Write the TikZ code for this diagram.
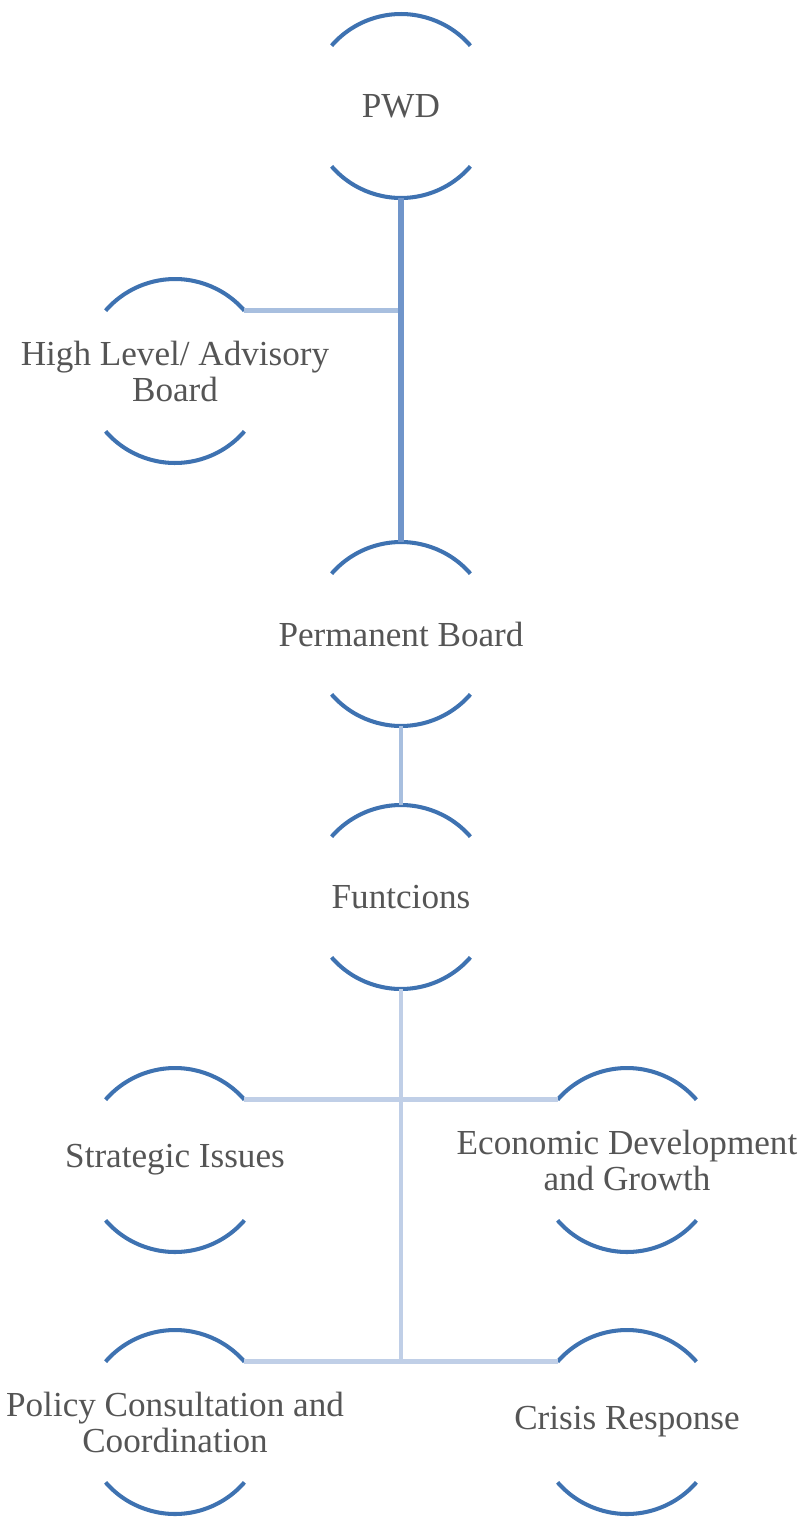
\documentclass[tikz,border=0pt]{standalone}
\usepackage{fontspec}
\setmainfont{Liberation Serif}
\definecolor{ringblue}{RGB}{62,114,177}
\definecolor{trunkblue}{RGB}{112,149,202}
\definecolor{branchblue}{RGB}{168,191,223}
\definecolor{paleblue}{RGB}{192,207,231}
\definecolor{labelgray}{RGB}{85,85,85}
\newcommand{\rad}{1.84cm}
% two arcs round a label, and the points where connectors meet them
\newcommand{\ring}[1]{%
  \draw[ringline] ([shift={(41:\rad)}]#1.center) arc[start angle=41,end angle=139,radius=\rad];
  \draw[ringline] ([shift={(221:\rad)}]#1.center) arc[start angle=221,end angle=319,radius=\rad];
  \coordinate (#1-n) at ([shift={(90:\rad)}]#1.center);
  \coordinate (#1-s) at ([shift={(270:\rad)}]#1.center);
  \coordinate (#1-ne) at ([shift={(41:\rad)}]#1.center);
  \coordinate (#1-nw) at ([shift={(139:\rad)}]#1.center);
}
\tikzset{
  ringline/.style={ringblue,line width=2.3pt},
  unit/.style={text=labelgray,align=center,font=\fontsize{20}{20.5}\selectfont,inner sep=0pt},
  trunk/.style={trunkblue,line width=2.9pt},
  branch/.style={branchblue,line width=2.6pt},
  pale/.style={paleblue,line width=2.8pt}
}
\begin{document}
\begin{tikzpicture}[x=0.02cm,y=0.02cm]
\useasboundingbox (0,0) rectangle (809,-1528);
\node[unit] (pwd) at (401,-106) {PWD};
\node[unit] (advisory) at (175,-371) {High Level/ Advisory\\Board};
\node[unit] (permanent) at (401,-634) {Permanent Board};
\node[unit] (functions) at (401,-897) {Funtcions};
\node[unit] (strategic) at (175,-1160) {Strategic Issues};
\node[unit] (economic) at (627,-1160) {Economic Development\\and Growth};
\node[unit] (policy) at (175,-1422) {Policy Consultation and\\Coordination};
\node[unit] (crisis) at (627,-1422) {Crisis Response};
\ring{pwd} \ring{advisory} \ring{permanent} \ring{functions}
\ring{strategic} \ring{economic} \ring{policy} \ring{crisis}
% upper part
\draw[branch] (advisory-ne) -- (advisory-ne -| pwd-s);
\draw[trunk] (pwd-s) -- (permanent-n);
\draw[branch] (permanent-s) -- (functions-n);
% lower part
\draw[pale] (strategic-ne) -- (economic-nw);
\draw[pale] (policy-ne) -- (crisis-nw);
\draw[pale] (functions-s) -- (functions-s |- policy-ne);
\end{tikzpicture}
\end{document}
